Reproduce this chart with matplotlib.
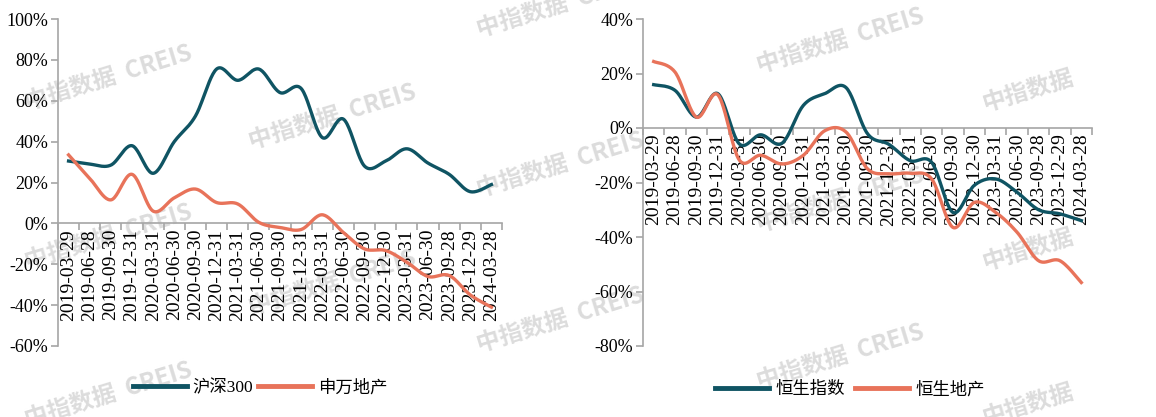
import numpy as np
import matplotlib
matplotlib.use('Agg')
import matplotlib.pyplot as plt
from matplotlib.ticker import FixedLocator, FuncFormatter

plt.rcParams['font.family'] = ['Liberation Serif', 'Noto Sans CJK SC']

# ===== 数据 =====
dates = ['2019-03-29', '2019-06-28', '2019-09-30', '2019-12-31',
         '2020-03-31', '2020-06-30', '2020-09-30', '2020-12-31',
         '2021-03-31', '2021-06-30', '2021-09-30', '2021-12-31',
         '2022-03-31', '2022-06-30', '2022-09-30', '2022-12-30',
         '2023-03-31', '2023-06-30', '2023-09-28', '2023-12-29',
         '2024-03-28']

hs300 = [30.5, 29, 28.5, 38, 24.5, 40, 52.5, 75.5, 70, 75.5, 64, 66,
         42, 51, 28, 30.5, 36.5, 29.5, 24, 15.5, 19]
sw_realty = [33.5, 22, 11.5, 24, 6, 12.5, 16.8, 10.2, 9.5, 0.5, -2, -3,
             4.2, -4.5, -12.5, -13.3, -19, -26, -25.5, -35, -41]

hsi = [15.9, 13.8, 4, 12.6, -5.8, -2.5, -5.6, 8.3, 12.6, 14.8, -2.1, -6,
       -12, -12.6, -31, -21, -18.7, -23.6, -30, -31.5, -34]
hs_realty = [24.4, 20.5, 4, 12.2, -11.7, -10, -13.2, -10, -1, -1.5, -15,
             -16.8, -16.6, -18.7, -36.5, -27.3, -31, -38.3, -48.7, -48.7, -56.7]

TEAL = '#0F5463'
ORANGE = '#E8735A'
GREY = '#A6A6A6'


def smooth(y, steps=24):
    """Excel 风格平滑曲线（Bezier / Catmull-Rom）"""
    x = np.arange(len(y), dtype=float)
    y = np.asarray(y, dtype=float)
    pts = np.column_stack([x, y])
    ext = np.vstack([pts[0], pts, pts[-1]])
    out = []
    t = np.linspace(0, 1, steps)[:, None]
    for i in range(len(pts) - 1):
        p0, p1, p2, p3 = ext[i], ext[i + 1], ext[i + 2], ext[i + 3]
        c1 = p1 + (p2 - p0) / 6
        c2 = p2 - (p3 - p1) / 6
        seg = ((1 - t) ** 3) * p1 + 3 * ((1 - t) ** 2) * t * c1 \
            + 3 * (1 - t) * t ** 2 * c2 + t ** 3 * p2
        out.append(seg if i == 0 else seg[1:])
    seg = np.vstack(out)
    return seg[:, 0], seg[:, 1]


def style_axis(ax, ylim, yticks):
    n = len(dates)
    ax.set_xlim(-0.5, n - 0.5)
    ax.set_ylim(*ylim)
    ax.set_facecolor('none')
    for s in ['top', 'right']:
        ax.spines[s].set_visible(False)
    ax.spines['bottom'].set_position(('data', 0))
    ax.spines['bottom'].set_color(GREY)
    ax.spines['bottom'].set_linewidth(1.2)
    ax.spines['left'].set_color(GREY)
    ax.spines['left'].set_linewidth(1.2)
    ax.set_xticks(np.arange(n))
    ax.set_xticklabels(dates, rotation=90, fontsize=14)
    ax.tick_params(axis='x', which='major', length=0, pad=4)
    ax.xaxis.set_minor_locator(FixedLocator(np.arange(-0.5, n, 1.0)))
    ax.tick_params(axis='x', which='minor', length=5, color=GREY, width=1.2, direction='out')
    ax.set_yticks(yticks)
    ax.yaxis.set_major_formatter(FuncFormatter(lambda v, p: f'{v:.0f}%'))
    ax.tick_params(axis='y', length=5, color=GREY, width=1.2, labelsize=13, pad=2)


fig = plt.figure(figsize=(11.56, 4.17), dpi=100)

# 水印
wm = [(108, 78), (108, 237), (108, 395), (332, 117), (332, 283),
      (560, 5), (560, 165), (560, 320), (840, 41), (840, 200), (840, 357)]
for (px, py) in wm:
    fig.text(px / 1156, 1 - py / 417, '中指数据  CREIS', fontsize=17, color='#DCDCDC',
             rotation=17, ha='center', va='center', fontweight='bold',
             family=['Noto Sans CJK SC', 'DejaVu Sans'], zorder=-1)
for (px, py) in [(1028, 91), (1028, 250), (1028, 405)]:
    fig.text(px / 1156, 1 - py / 417, '中指数据', fontsize=17, color='#DCDCDC',
             rotation=17, ha='center', va='center', fontweight='bold',
             family=['Noto Sans CJK SC'], zorder=-1)

# 左图
ax1 = fig.add_axes([58 / 1156, 71 / 417, 444 / 1156, 327 / 417])
style_axis(ax1, (-60, 100), np.arange(-60, 101, 20))
l1, = ax1.plot(*smooth(hs300), color=TEAL, lw=2.4, zorder=3, label='沪深300')
l2, = ax1.plot(*smooth(sw_realty), color=ORANGE, lw=2.4, zorder=3, label='申万地产')
fig.legend(handles=[l1, l2], loc='center', bbox_to_anchor=(260 / 1156, 1 - 388 / 417),
           ncol=2, frameon=False, fontsize=12.5, handlelength=3.1, handletextpad=0.35,
           columnspacing=0.25, borderaxespad=0)

# 右图
ax2 = fig.add_axes([643 / 1156, 71 / 417, 449 / 1156, 327 / 417])
style_axis(ax2, (-80, 40), np.arange(-80, 41, 20))
l3, = ax2.plot(*smooth(hsi), color=TEAL, lw=2.4, zorder=3, label='恒生指数')
l4, = ax2.plot(*smooth(hs_realty), color=ORANGE, lw=2.4, zorder=3, label='恒生地产')
fig.legend(handles=[l3, l4], loc='center', bbox_to_anchor=(850 / 1156, 1 - 390 / 417),
           ncol=2, frameon=False, fontsize=12.5, handlelength=3.1, handletextpad=0.35,
           columnspacing=0.6, borderaxespad=0)

for leg in fig.legends:
    for line in leg.get_lines():
        line.set_linewidth(3.5)

fig.savefig('out.png', dpi=100)
